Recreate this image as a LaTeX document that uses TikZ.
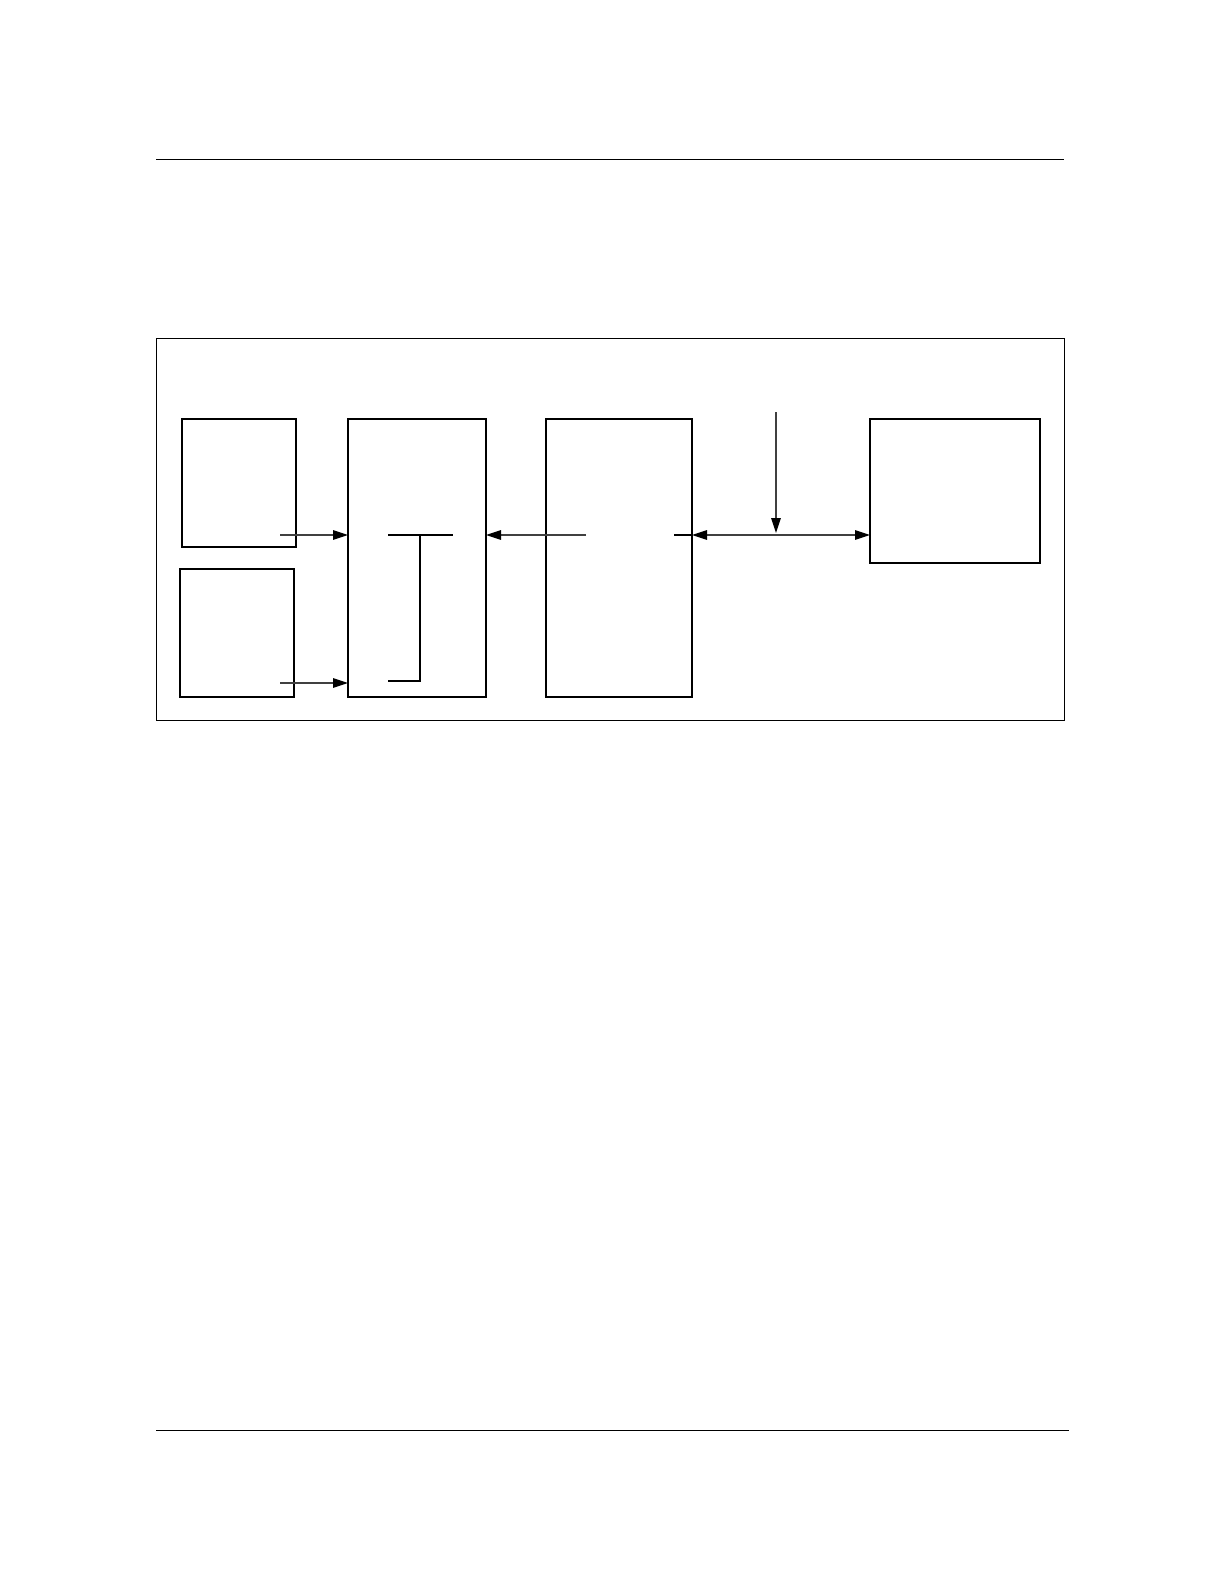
\documentclass[tikz,border=0pt]{standalone}
\usetikzlibrary{arrows.meta}
\begin{document}
\begin{tikzpicture}[x=0.5pt,y=-0.5pt,
  blk/.style={draw=black,line width=1.1pt,inner sep=0pt,outer sep=0pt,anchor=north west},
  frm/.style={draw=black,line width=0.5pt,inner sep=0pt,outer sep=0pt,anchor=north west},
  conn/.style={draw=black!75,line width=0.6pt},
  tip/.tip={Triangle[length=7.5pt,width=4.8pt,color=black]},
  arr/.style={conn,-tip},
  darr/.style={conn,tip-tip},
  rule/.style={draw=black,line width=0.45pt}]
\useasboundingbox (0,0) rectangle (1224,1584);
% page rules
\coordinate (t1) at (156,159); \coordinate (t2) at (1064,159);
\coordinate (b1) at (156,1430); \coordinate (b2) at (1069,1430);
\draw[rule] (t1) -- (t2);
\draw[rule] (b1) -- (b2);
% frame
\node[frm,minimum width=454pt,minimum height=191pt] (frame) at (156,338) {};
% blocks
\node[blk,minimum width=57pt,minimum height=64pt] (A) at (182,419) {};
\node[blk,minimum width=57pt,minimum height=64pt] (B) at (180,569) {};
\node[blk,minimum width=69pt,minimum height=139pt] (C) at (348,419) {};
\node[blk,minimum width=73pt,minimum height=139pt] (D) at (546,419) {};
\node[blk,minimum width=85pt,minimum height=72pt] (E) at (870,419) {};
% connectors into C
\coordinate (a1) at (280,535);
\coordinate (b0) at (280,683);
\draw[arr] (a1) -- (a1 -| C.west);
\draw[arr] (b0) -- (b0 -| C.west);
% lines inside C
\coordinate (c1) at (388,535); \coordinate (c2) at (453,535);
\coordinate (c3) at (420,535); \coordinate (c4) at (420,681);
\coordinate (c5) at (388,681);
\draw[conn,black] (c1) -- (c2);
\draw[conn,black] (c3) -- (c4) -- (c5);
% D to C
\coordinate (d1) at (586,535);
\draw[arr] (d1) -- (d1 -| C.east);
\coordinate (d2) at (674,535);
\draw[conn,black] (d2) -- (d2 -| D.east);
% D <-> E
\draw[darr] (D.east |- d2) -- (E.west |- d2);
% vertical arrow
\coordinate (v1) at (776,412); \coordinate (v2) at (776,533);
\draw[arr] (v1) -- (v2);
\end{tikzpicture}
\end{document}
